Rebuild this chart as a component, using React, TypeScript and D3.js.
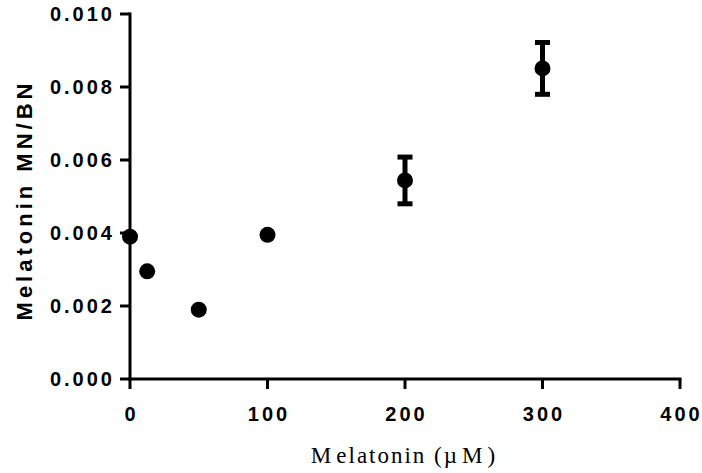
import React from "react"
import * as d3 from "d3"

// melatonin dose (uM) vs MN/BN ratio, mean +/- SEM
const doses = [0, 12.5, 50, 100, 200, 300]
const ratios = [0.0039, 0.00295, 0.0019, 0.00395, 0.00544, 0.00851]
const errors = [0, 0, 0, 0, 0.00064, 0.00071]
const xTicks = [0, 100, 200, 300, 400]
const yTicks = [0, 0.002, 0.004, 0.006, 0.008, 0.01]

const WIDTH = 702
const HEIGHT = 473
const SANS = "Arial, 'Liberation Sans', sans-serif"

export default function App() {
	const x = d3.scaleLinear().domain([0, 400]).range([130, 680])
	const y = d3.scaleLinear().domain([0, 0.01]).range([379, 14])
	const bottom = y(0)
	const fmt = d3.format(".3f")

	const data = doses.map((d, i) => ({ dose: d, ratio: ratios[i], err: errors[i] }))

	return (
		<svg width={WIDTH} height={HEIGHT} style={{ display: "block", position: "absolute", left: 0, top: 0 }}>
			<g className="y axis">
				<line x1={x(0)} x2={x(0)} y1={y(0.01) - 1.5} y2={bottom + 1.5} stroke="#000" strokeWidth={3} />
				{yTicks.map(t => (
					<g key={t}>
						<line x1={x(0) - 10} x2={x(0)} y1={y(t)} y2={y(t)} stroke="#000" strokeWidth={3} />
						<text x={x(0) - 15} y={y(t)} dy="0.36em" textAnchor="end"
							fontFamily={SANS} fontWeight="bold" fontSize={20}
							letterSpacing={3}>{fmt(t)}</text>
					</g>
				))}
			</g>
			<g className="x axis">
				<line x1={x(0) - 1.5} x2={x(400) + 1.5} y1={bottom} y2={bottom} stroke="#000" strokeWidth={3} />
				{xTicks.map(t => (
					<g key={t}>
						<line x1={x(t)} x2={x(t)} y1={bottom} y2={bottom + 10} stroke="#000" strokeWidth={3} />
						<text x={x(t) + 1.5} y={421} textAnchor="middle"
							fontFamily={SANS} fontWeight="bold" fontSize={20}
							letterSpacing={3}>{t}</text>
					</g>
				))}
			</g>
			<g className="graph-area">
				{data.filter(d => d.err > 0).map(d => (
					<g key={"e" + d.dose}>
						<line x1={x(d.dose)} x2={x(d.dose)} y1={y(d.ratio + d.err)} y2={y(d.ratio - d.err)} stroke="#000" strokeWidth={5} />
						<line x1={x(d.dose) - 7.5} x2={x(d.dose) + 7.5} y1={y(d.ratio + d.err)} y2={y(d.ratio + d.err)} stroke="#000" strokeWidth={5} />
						<line x1={x(d.dose) - 7.5} x2={x(d.dose) + 7.5} y1={y(d.ratio - d.err)} y2={y(d.ratio - d.err)} stroke="#000" strokeWidth={5} />
					</g>
				))}
				{data.map(d => (
					<circle key={d.dose} cx={x(d.dose)} cy={y(d.ratio)} r={8} fill="#000" />
				))}
			</g>
			<text transform="translate(32, 200) rotate(-90)" textAnchor="middle"
				fontFamily={SANS} fontWeight="bold" fontSize={22}
				letterSpacing={4}>Melatonin MN/BN</text>
			<text x={404} y={463} textAnchor="middle" fontFamily="'Times New Roman', 'Liberation Serif', serif"
				fontSize={23} letterSpacing={2}>
				<tspan>M</tspan><tspan dx={3}>elatonin (µ</tspan><tspan dx={3}>M</tspan><tspan dx={3}>)</tspan>
			</text>
		</svg>
	)
}
